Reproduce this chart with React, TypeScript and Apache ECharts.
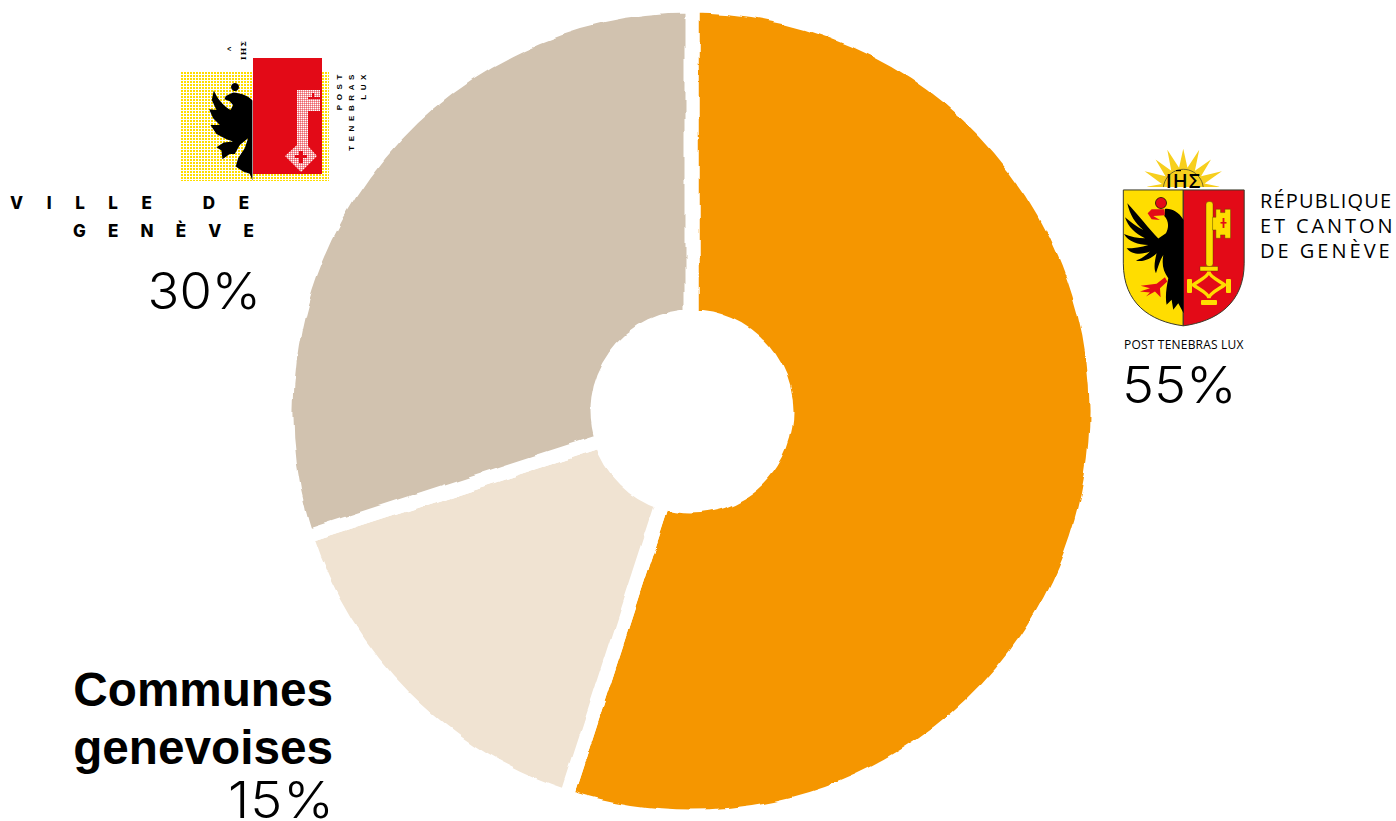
import React, { useEffect, useRef } from "react";
import * as echarts from "echarts";

// Share of funding by public body
const bodies = ["République et canton de Genève", "Communes genevoises", "Ville de Genève"];
const shares = [55, 15, 30];
const sliceColors = ["#F59600", "#F0E3D2", "#D1C2AF"];

const pct = (i: number) => `${shares[i]}%`;

const BLACK = "#000000";
const RED = "#E30A17";
const YELLOW = "#FFDD00";
const OUTLINE = "#3a3a2a";

// Cantonal arms, in a 3x drawing space placed at (1110, 140)
const shieldLeft = "M40 150 H220 V558 C120 545 40 490 40 370 Z";
const shieldRight = "M220 150 H403 V370 C403 490 320 545 220 558 Z";
const cantonEagle =
  "M221 240 C205 215 185 205 165 207 L163 228 C176 240 178 262 168 280 L145 296 C120 270 85 225 52 190 C60 225 75 250 100 270 C80 260 60 245 45 232 C55 262 75 280 105 295 C85 295 60 290 42 282 C55 305 85 315 115 315 C95 322 70 325 50 325 C65 345 95 345 120 335 C105 350 90 358 78 362 C100 368 125 355 140 340 C135 360 130 385 138 400 C145 380 150 360 160 345 C155 375 160 395 175 415 C170 440 165 470 170 495 L185 480 L190 510 L205 490 L221 520 Z";
const cantonBeak = "M163 208 L125 208 L113 220 L125 238 L150 240 L130 228 L165 226 Z";
const cantonTalon =
  "M165 412 L140 432 L92 438 L120 445 L90 455 L120 458 L108 470 L135 455 L152 472 L150 445 L172 425 Z";
const keyBit =
  "M308 232 H318 V208 H332 V218 H345 V208 H362 V295 H345 V285 H332 V295 H318 V270 H308 Z";
const keyBow =
  "M297 395 C297 410 262 425 250 435 C262 445 297 460 297 475 C297 460 332 445 344 435 C332 425 297 410 297 395 Z";

function sunRays(): string {
  const tips = [-176, -155, -133, -112, -90, -68, -47, -25, -4];
  const pts: string[] = [];
  tips.forEach((deg, i) => {
    const a = (deg * Math.PI) / 180;
    const r = i === 0 || i === 8 ? 110 : i % 2 === 0 ? 122 : 128;
    if (i > 0) {
      const m = ((deg - 11) * Math.PI) / 180;
      pts.push(`${220 + 66 * Math.cos(m)} ${148 + 66 * Math.sin(m)}`);
    }
    pts.push(`${220 + r * Math.cos(a)} ${148 + r * Math.sin(a)}`);
  });
  return `M160 148 L${pts.join(" L")} L280 148 Z`;
}

// Municipal arms, in a 3x drawing space placed at (0, 30)
const cityEagle =
  "M758 212 C745 198 725 190 700 188 L678 198 L674 208 L690 214 L700 226 L692 240 C670 228 652 205 642 182 L636 210 L650 240 L628 238 L640 265 L660 285 L632 285 L650 312 L680 328 L700 335 L672 338 L650 352 L665 362 L668 388 L690 372 L705 372 L720 345 L745 325 L735 355 L715 385 L708 410 L730 425 L750 432 L758 452 Z";

// Dotted raster tiles used inside the municipal arms
const dotField =
  "data:image/svg+xml," +
  encodeURIComponent(
    `<svg xmlns="http://www.w3.org/2000/svg" width="148" height="109"><defs><pattern id="d" width="3" height="3" patternUnits="userSpaceOnUse"><rect width="2" height="2" fill="${YELLOW}"/></pattern></defs><rect width="148" height="109" fill="url(#d)"/></svg>`
  );
const keyRaster =
  "data:image/svg+xml," +
  encodeURIComponent(
    `<svg xmlns="http://www.w3.org/2000/svg" width="36" height="84"><defs><pattern id="k" width="2" height="2" patternUnits="userSpaceOnUse"><rect width="1.6" height="1.6" fill="#fff"/></pattern></defs><path d="M12 0 H35 V21 H23 V56 L32 66 L16 82 L0 66 L12 55 Z" fill="url(#k)"/><path d="M23 7 H35 V9 H23 Z M27 3 H29 V7 H27 Z M14 65 H18 V61 H14 Z M10 65 H22 V68 H10 Z M14 65 H18 V73 H14 Z" fill="${RED}"/></svg>`
  );

echarts.graphic.registerShape("cantonShieldLeft", echarts.graphic.extendPath(shieldLeft as any, {}));
echarts.graphic.registerShape("cantonShieldRight", echarts.graphic.extendPath(shieldRight as any, {}));
echarts.graphic.registerShape("cantonEagle", echarts.graphic.extendPath(cantonEagle as any, {}));
echarts.graphic.registerShape("cantonBeak", echarts.graphic.extendPath(cantonBeak as any, {}));
echarts.graphic.registerShape("cantonTalon", echarts.graphic.extendPath(cantonTalon as any, {}));
echarts.graphic.registerShape("keyBit", echarts.graphic.extendPath(keyBit as any, {}));
echarts.graphic.registerShape("keyBow", echarts.graphic.extendPath(keyBow as any, {}));
echarts.graphic.registerShape("sunRays", echarts.graphic.extendPath(sunRays() as any, {}));
echarts.graphic.registerShape("cityEagle", echarts.graphic.extendPath(cityEagle as any, {}));

const LIGHT = "Inter, 'Noto Sans', sans-serif";
const HUMANIST = "'Open Sans', 'Noto Sans', sans-serif";
const GROTESK = "'Liberation Sans', Arial, sans-serif";

const txt = (
  text: string,
  x: number,
  y: number,
  fontSize: number,
  fontFamily: string,
  fontWeight: number | string,
  align: string,
  rotation = 0,
  scaleX = 1
) => ({
  type: "text",
  x,
  y,
  rotation,
  scaleX,
  silent: true,
  style: { text, fontSize, fontFamily, fontWeight, fill: BLACK, align, verticalAlign: "middle" },
});

const canton = { x: 1110, y: 140, scaleX: 1 / 3, scaleY: 1 / 3, silent: true };
const city = { x: 0, y: 30, scaleX: 1 / 3, scaleY: 1 / 3, silent: true };

const cantonArms = [
  { type: "sunRays", ...canton, style: { fill: "#F7CF1D" } },
  { type: "circle", x: 1183.3, y: 189.3, shape: { r: 20 }, silent: true, style: { fill: "#F7CF1D", stroke: OUTLINE, lineWidth: 0.7 } },
  { type: "rect", x: 1145, y: 187, shape: { width: 77, height: 3 }, silent: true, style: { fill: "#ffffff" } },
  txt("IHΣ", 1183.5, 180.5, 20, HUMANIST, 600, "center"),
  { type: "rect", x: 1176, y: 170, shape: { width: 5, height: 1.2 }, silent: true, style: { fill: BLACK } },
  { type: "cantonShieldLeft", ...canton, style: { fill: YELLOW, stroke: OUTLINE, lineWidth: 3 } },
  { type: "cantonShieldRight", ...canton, style: { fill: RED, stroke: OUTLINE, lineWidth: 3 } },
  { type: "cantonEagle", ...canton, style: { fill: BLACK } },
  { type: "cantonBeak", ...canton, style: { fill: RED } },
  { type: "cantonTalon", ...canton, style: { fill: RED } },
  { type: "circle", x: 1161, y: 203, shape: { r: 5.5 }, silent: true, style: { fill: RED, stroke: BLACK, lineWidth: 0.7 } },
  { type: "rect", x: 1206, y: 201.5, shape: { width: 7, height: 65, r: 3 }, silent: true, style: { fill: YELLOW, stroke: "#4a3a00", lineWidth: 0.4 } },
  { type: "rect", x: 1200, y: 266.5, shape: { width: 18, height: 4.5 }, silent: true, style: { fill: YELLOW, stroke: "#4a3a00", lineWidth: 0.4 } },
  { type: "keyBit", ...canton, style: { fill: YELLOW, stroke: "#4a3a00", lineWidth: 1.2 } },
  { type: "rect", x: 1220.5, y: 222, shape: { width: 6, height: 1.6 }, silent: true, style: { fill: RED } },
  { type: "rect", x: 1222.6, y: 218, shape: { width: 1.8, height: 10 }, silent: true, style: { fill: RED } },
  { type: "keyBow", ...canton, style: { fill: "none", stroke: YELLOW, lineWidth: 10 } },
  { type: "rect", x: 1187, y: 279, shape: { width: 5, height: 14, r: 1 }, silent: true, style: { fill: YELLOW } },
  { type: "rect", x: 1226, y: 279, shape: { width: 5, height: 14, r: 1 }, silent: true, style: { fill: YELLOW } },
  { type: "rect", x: 1201, y: 300, shape: { width: 16, height: 5, r: 1 }, silent: true, style: { fill: YELLOW } },
  txt("RÉPUBLIQUE", 1260, 200, 20, HUMANIST, 400, "left"),
  txt("ET CANTON", 1260, 225, 20, HUMANIST, 400, "left"),
  txt("DE GENÈVE", 1260, 250, 20, HUMANIST, 400, "left"),
  txt("POST TENEBRAS LUX", 1124, 344, 12, HUMANIST, 400, "left"),
];

const cityArms = [
  { type: "image", x: 181, y: 72, silent: true, style: { image: dotField, width: 148, height: 109 } },
  { type: "rect", x: 253, y: 58, shape: { width: 69, height: 116 }, silent: true, style: { fill: RED } },
  { type: "cityEagle", ...city, style: { fill: BLACK } },
  { type: "circle", x: 235, y: 87, shape: { r: 4 }, silent: true, style: { fill: BLACK } },
  { type: "image", x: 285, y: 90, silent: true, style: { image: keyRaster, width: 36, height: 84 } },
  txt("IHΣ", 243, 50, 8, "'DejaVu Serif', serif", 700, "center", Math.PI / 2),
  txt("^", 230, 49, 8, GROTESK, 700, "center", Math.PI / 2),
  txt("POST", 339, 70, 8, GROTESK, 700, "right", Math.PI / 2),
  txt("TENEBRAS", 351, 70, 8, GROTESK, 700, "right", Math.PI / 2),
  txt("LUX", 363, 70, 8, GROTESK, 700, "right", Math.PI / 2),
  txt("VILLE DE", 10, 203, 17, LIGHT, 800, "left"),
  txt("GENÈVE", 73, 231, 17, LIGHT, 800, "left"),
];

// Letter spacing that zrender's text style cannot express
const tracking: Record<string, string> = {
  "VILLE DE": "23.6px",
  "GENÈVE": "22.2px",
  POST: "4.6px",
  TENEBRAS: "4.6px",
  LUX: "4.6px",
  "IHΣ": "1px",
  "RÉPUBLIQUE": "1.2px",
  "ET CANTON": "2.9px",
  "DE GENÈVE": "3px",
  "POST TENEBRAS LUX": "0.2px",
  "15%": "1px",
};

export default function App() {
  const ref = useRef<HTMLDivElement>(null);

  useEffect(() => {
    if (!ref.current) return;
    const chart = echarts.init(ref.current, undefined, { renderer: "svg" });
    chart.setOption({
      animation: false,
      backgroundColor: "#ffffff",
      series: [
        {
          type: "pie",
          center: [691.5, 411.5],
          radius: [95, 405],
          startAngle: 90,
          silent: true,
          label: { show: false },
          labelLine: { show: false },
          itemStyle: { borderColor: "#ffffff", borderWidth: 14 },
          data: bodies.map((name, i) => ({
            name,
            value: shares[i],
            itemStyle: { color: sliceColors[i] },
          })),
        },
      ],
      graphic: {
        elements: [
          ...cantonArms,
          ...cityArms,
          txt(pct(0), 1122, 385, 50, LIGHT, 300, "left", 0, 1.08),
          txt(pct(2), 261, 290, 50, LIGHT, 300, "right", 0, 1.05),
          txt("Communes", 333, 689, 47.7, GROTESK, 700, "right"),
          txt("genevoises", 333, 747, 47.7, GROTESK, 700, "right"),
          txt(pct(1), 335, 800, 50, LIGHT, 300, "right", 0, 1.08),
        ],
      },
    });

    // Torn-paper edge on the slices, plus letter spacing on the logotypes
    const root = ref.current;
    const probe = document.createElement("canvas").getContext("2d")!;
    const norm = (c: string) => {
      probe.fillStyle = "#000";
      probe.fillStyle = c;
      return probe.fillStyle;
    };
    const sliceFills = sliceColors.map(norm);
    root.querySelectorAll("path").forEach((p) => {
      const fill = p.getAttribute("fill");
      if (fill && sliceFills.includes(norm(fill))) {
        (p as SVGPathElement).style.filter = "url(#torn-edge)";
      }
    });
    root.querySelectorAll("text").forEach((t) => {
      const spacing = tracking[t.textContent || ""];
      if (spacing) (t as SVGTextElement).style.letterSpacing = spacing;
    });

    return () => chart.dispose();
  }, []);

  return (
    <>
      <svg width="0" height="0" style={{ position: "absolute" }}>
        <defs>
          <filter id="torn-edge" x="-10%" y="-10%" width="120%" height="120%" colorInterpolationFilters="sRGB">
            <feTurbulence type="fractalNoise" baseFrequency="0.025" numOctaves={3} seed={7} result="n" />
            <feDisplacementMap in="SourceGraphic" in2="n" scale={7} xChannelSelector="R" yChannelSelector="G" />
          </filter>
        </defs>
      </svg>
      <div ref={ref} style={{ position: "fixed", left: 0, top: 0, width: 1396, height: 821 }} />
    </>
  );
}
